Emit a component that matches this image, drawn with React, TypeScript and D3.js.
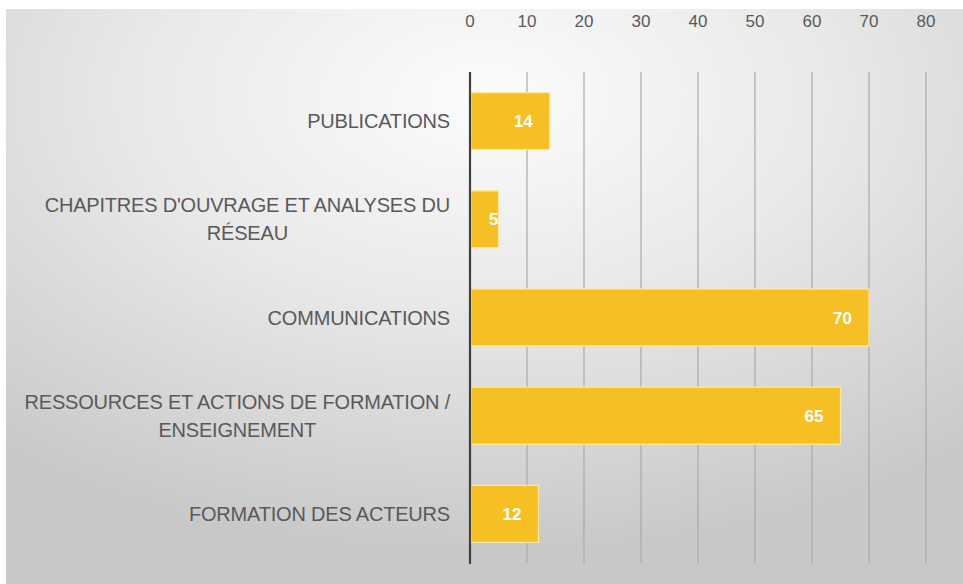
import React, { useEffect, useRef } from 'react';
import * as d3 from 'd3';

const categories = ['pub', 'chap', 'comm', 'ress', 'form'];
const categoryLines = [
  ['PUBLICATIONS'],
  ["CHAPITRES D'OUVRAGE ET ANALYSES DU", 'RÉSEAU'],
  ['COMMUNICATIONS'],
  ['RESSOURCES ET ACTIONS DE FORMATION /', 'ENSEIGNEMENT'],
  ['FORMATION DES ACTEURS'],
];
const values = [14, 5, 70, 65, 12];
const tickValues = [0, 10, 20, 30, 40, 50, 60, 70, 80];

const App = () => {
  const ref = useRef(null);
  const width = 963;
  const height = 584;

  useEffect(() => {
    const svg = d3.select(ref.current);
    svg.selectAll('*').remove();

    const defs = svg.append('defs');
    const grad = defs.append('radialGradient')
      .attr('id', 'bg')
      .attr('cx', '50%').attr('cy', '15%').attr('r', '80%');
    grad.append('stop').attr('offset', '0').attr('stop-color', '#fcfcfc');
    grad.append('stop').attr('offset', '0.45').attr('stop-color', '#e9e9e9');
    grad.append('stop').attr('offset', '1').attr('stop-color', '#c8c8c8');

    svg.append('rect')
      .attr('width', width).attr('height', height).attr('fill', '#fff');
    svg.append('rect')
      .attr('x', 6).attr('y', 9)
      .attr('width', width - 6).attr('height', height - 9)
      .attr('fill', 'url(#bg)');

    const x = d3.scaleLinear().domain([0, 80]).range([470, 926]);
    const y = d3.scaleBand()
      .domain(categories)
      .range([72, 563])
      .paddingInner(0.42)
      .paddingOuter(0.21);

    const font = "'Liberation Sans', Arial, sans-serif";

    // gridlines
    svg.append('g')
      .selectAll('line')
      .data(tickValues.filter((t) => t !== 0))
      .join('line')
      .attr('x1', (d) => x(d)).attr('x2', (d) => x(d))
      .attr('y1', 72).attr('y2', 563)
      .attr('stroke', '#a9a9a9')
      .attr('stroke-width', 1.2);

    // tick labels on top
    svg.append('g')
      .selectAll('text')
      .data(tickValues)
      .join('text')
      .attr('x', (d) => x(d))
      .attr('y', 27)
      .attr('text-anchor', 'middle')
      .attr('font-family', font)
      .attr('font-size', 17)
      .attr('fill', '#595959')
      .text((d) => d);

    // bars
    svg.append('g')
      .selectAll('rect')
      .data(values)
      .join('rect')
      .attr('x', x(0) + 1)
      .attr('y', (d, i) => y(categories[i]))
      .attr('width', (d) => x(d) - x(0) - 1)
      .attr('height', y.bandwidth())
      .attr('fill', '#f6c025')
      .attr('stroke', '#fde9a6')
      .attr('stroke-width', 1.2);

    // axis line
    svg.append('line')
      .attr('x1', x(0)).attr('x2', x(0))
      .attr('y1', 72).attr('y2', 564)
      .attr('stroke', '#3f3f3f')
      .attr('stroke-width', 2.2);

    // value labels
    svg.append('g')
      .selectAll('text')
      .data(values)
      .join('text')
      .attr('x', (d) => (x(d) - x(0) < 40 ? x(d) : x(d) - 17))
      .attr('y', (d, i) => y(categories[i]) + y.bandwidth() / 2 + 6)
      .attr('text-anchor', 'end')
      .attr('font-family', font)
      .attr('font-weight', 'bold')
      .attr('font-size', 17)
      .attr('fill', '#fff')
      .text((d) => d);

    // category labels
    const labelX = 450;
    const lineH = 28;
    categoryLines.forEach((lines, i) => {
      const cy = y(categories[i]) + y.bandwidth() / 2;
      const g = svg.append('g');
      const first = g.append('text')
        .attr('x', labelX)
        .attr('y', cy - ((lines.length - 1) * lineH) / 2 + 7)
        .attr('text-anchor', 'end')
        .attr('font-family', font)
        .attr('font-size', 20)
        .attr('letter-spacing', -0.2)
        .attr('fill', '#595959')
        .text(lines[0]);
      const w = first.node().getComputedTextLength();
      lines.slice(1).forEach((ln, j) => {
        g.append('text')
          .attr('x', labelX - w / 2)
          .attr('y', cy - ((lines.length - 1) * lineH) / 2 + 7 + (j + 1) * lineH)
          .attr('text-anchor', 'middle')
          .attr('font-family', font)
          .attr('font-size', 20)
          .attr('letter-spacing', -0.2)
          .attr('fill', '#595959')
          .text(ln);
      });
    });
  }, []);

  return (
    <svg
      ref={ref}
      width={width}
      height={height}
      style={{ position: 'absolute', left: 0, top: 0 }}
    ></svg>
  );
};

export default App;
